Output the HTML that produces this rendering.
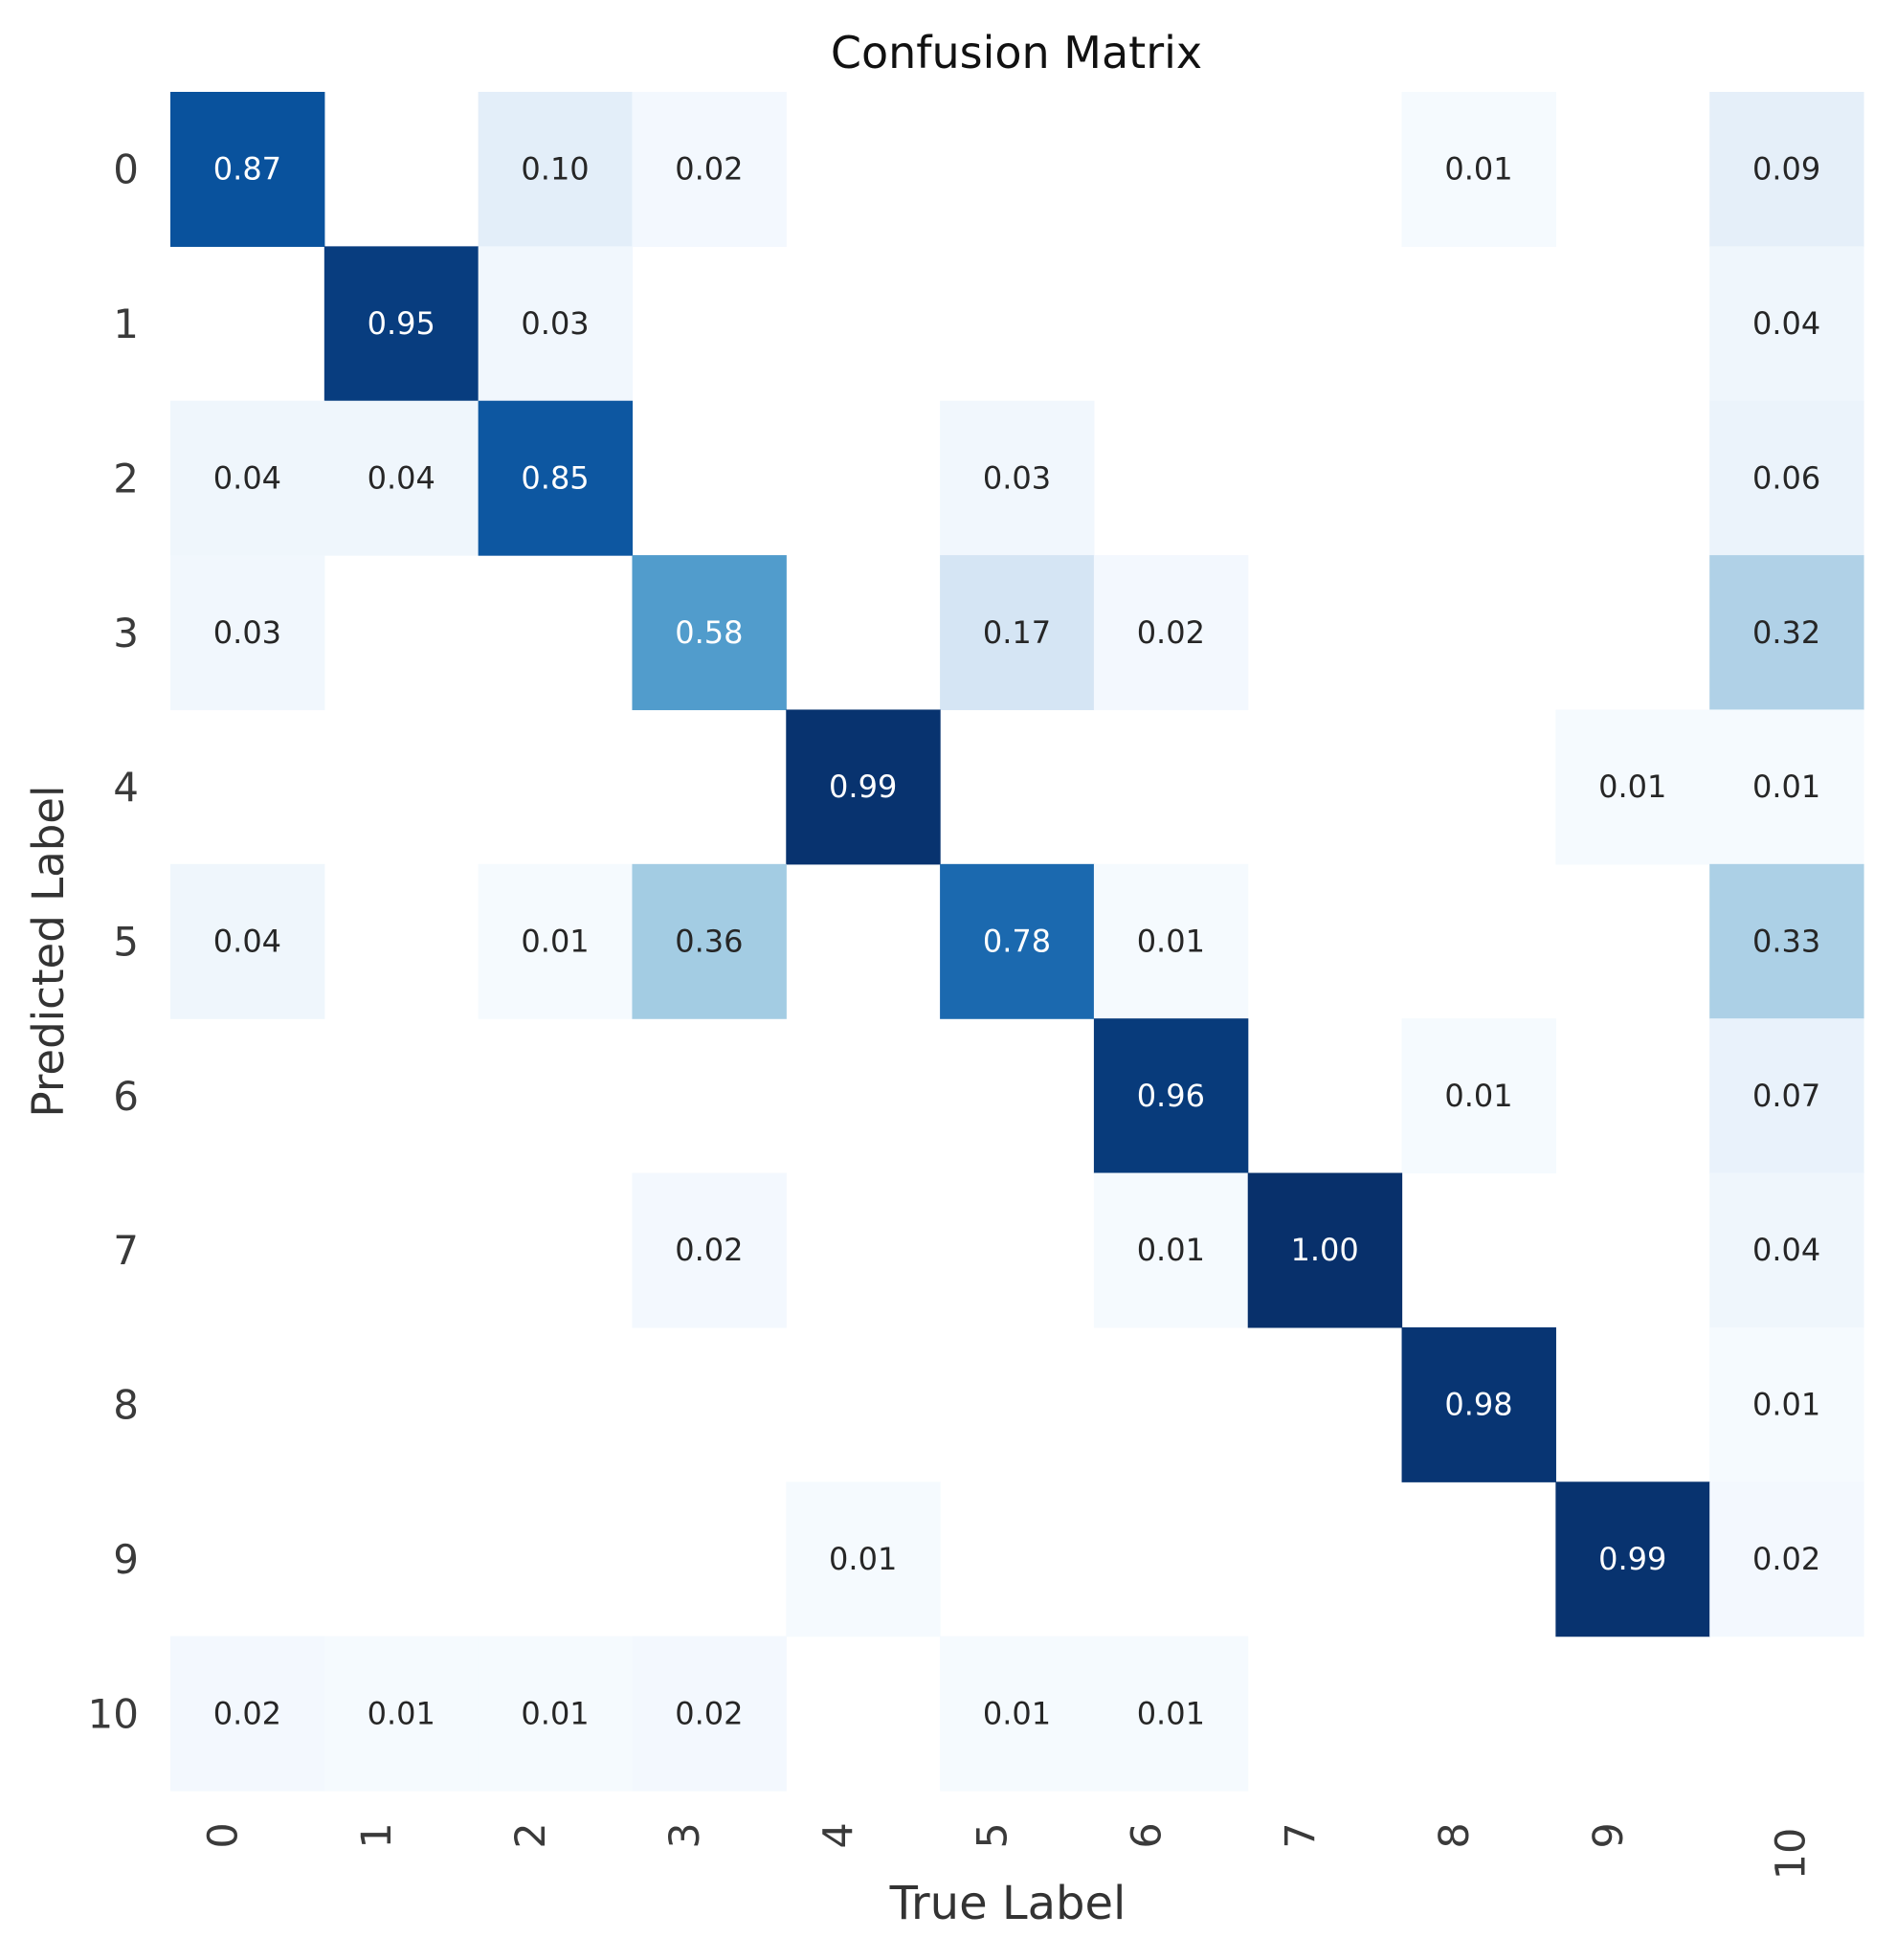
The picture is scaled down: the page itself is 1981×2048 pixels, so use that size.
<!DOCTYPE html>
<html><head><meta charset="utf-8"><style>
html,body{margin:0;padding:0;background:#fff;}
svg text{font-family:"DejaVu Sans","Liberation Sans",sans-serif;}
</style></head><body>
<svg id="chart" width="1981" height="2043" viewBox="0 0 1981 2043" xmlns="http://www.w3.org/2000/svg">
<rect width="1981" height="2043" fill="#fff"/>
<text x="1062" y="71" font-size="46" text-anchor="middle" fill="#111">Confusion Matrix</text>
<text transform="translate(66,994) rotate(-90)" font-size="45" text-anchor="middle" fill="#333">Predicted Label</text>
<text x="1053" y="2005" font-size="48" text-anchor="middle" fill="#333">True Label</text>
<g id="cells"></g><g id="ticks"></g>
</svg>
<script>
const trueLabels = ["0","1","2","3","4","5","6","7","8","9","10"];
const predLabels = ["0","1","2","3","4","5","6","7","8","9","10"];
const row0 = [0.87,0,0.10,0.02,0,0,0,0,0.01,0,0.09];
const row1 = [0,0.95,0.03,0,0,0,0,0,0,0,0.04];
const row2 = [0.04,0.04,0.85,0,0,0.03,0,0,0,0,0.06];
const row3 = [0.03,0,0,0.58,0,0.17,0.02,0,0,0,0.32];
const row4 = [0,0,0,0,0.99,0,0,0,0,0.01,0.01];
const row5 = [0.04,0,0.01,0.36,0,0.78,0.01,0,0,0,0.33];
const row6 = [0,0,0,0,0,0,0.96,0,0.01,0,0.07];
const row7 = [0,0,0,0.02,0,0,0.01,1.00,0,0,0.04];
const row8 = [0,0,0,0,0,0,0,0,0.98,0,0.01];
const row9 = [0,0,0,0,0.01,0,0,0,0,0.99,0.02];
const row10 = [0.02,0.01,0.01,0.02,0,0.01,0.01,0,0,0,0];
const matrix = [row0,row1,row2,row3,row4,row5,row6,row7,row8,row9,row10];

const X0=178, X1=1947, Y0=96, Y1=1871;
const cw=(X1-X0)/trueLabels.length, ch=(Y1-Y0)/predLabels.length;
const xScale=i=>X0+i*cw, yScale=i=>Y0+i*ch;
const stops=["#f7fbff","#deebf7","#c6dbef","#9ecae1","#6baed6","#4292c6","#2171b5","#08519c","#08306b"];
function hex(h){return [1,3,5].map(k=>parseInt(h.substr(k,2),16));}
function blues(v){
  v=Math.max(0,Math.min(1,v));const t=v*(stops.length-1);const i=Math.min(Math.floor(t),stops.length-2);const f=t-i;
  const a=hex(stops[i]),b=hex(stops[i+1]);
  return "rgb("+a.map((c,k)=>Math.round(c+(b[k]-c)*f)).join(",")+")";
}
const NS="http://www.w3.org/2000/svg";
const cells=document.getElementById("cells"), ticks=document.getElementById("ticks");
matrix.forEach((row,r)=>row.forEach((v,c)=>{
  if(v<=0) return;
  const rect=document.createElementNS(NS,"rect");
  
  
  rect.setAttribute("x",xScale(c));rect.setAttribute("y",yScale(r));
  rect.setAttribute("width",cw+0.6);rect.setAttribute("height",ch+0.6);
  rect.setAttribute("fill",blues(v));
  cells.appendChild(rect);
  const t=document.createElementNS(NS,"text");
  
  
  t.setAttribute("x",xScale(c)+cw/2);t.setAttribute("y",yScale(r)+ch/2+11);
  t.setAttribute("font-size","32");t.setAttribute("text-anchor","middle");
  t.setAttribute("fill",v>0.5?"#ffffff":"#262626");
  t.textContent=v.toFixed(2);
  cells.appendChild(t);
}));
predLabels.forEach((l,i)=>{
  const t=document.createElementNS(NS,"text");
  
  
  t.setAttribute("x",145);t.setAttribute("y",yScale(i)+ch/2+15);
  t.setAttribute("font-size","42");t.setAttribute("text-anchor","end");t.setAttribute("fill","#3a3a3a");
  t.textContent=l;ticks.appendChild(t);
});
trueLabels.forEach((l,i)=>{
  const t=document.createElementNS(NS,"text");
  
  
  const cx=xScale(i)+cw/2-(l.length>1?-4:26);
  const cy=l.length>1?1937:1918;
  t.setAttribute("transform","translate("+cx+","+cy+") rotate(-90)");
  t.setAttribute("font-size","43");t.setAttribute("text-anchor","middle");t.setAttribute("dy","15");t.setAttribute("fill","#3a3a3a");
  t.textContent=l;ticks.appendChild(t);
});
</script>
</body></html>
